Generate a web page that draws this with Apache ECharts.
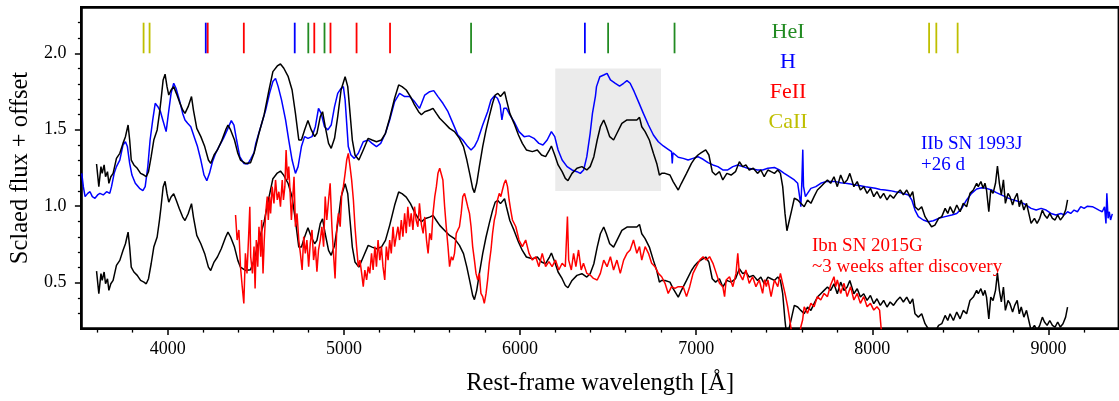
<!DOCTYPE html>
<html>
<head>
<meta charset="utf-8">
<script src="https://cdn.jsdelivr.net/npm/echarts@6/dist/echarts.min.js"></script>
<style>
html,body{margin:0;padding:0;background:#fff;}
#chart{width:1119px;height:401px;}
</style>
</head>
<body>
<div id="chart"></div>
<script>
// ---------------- DATA ----------------
// Comparison spectrum (black), as plotted in the upper panel; lower copy is shifted by blackOffset
const blackWave = [3596,3601,3609,3621,3628,3639,3647,3658,3666,3677,3690,3709,3728,3746,3760,3775,3784,3793,3808,3827,3846,3865,3878,3891,3906,3921,3940,3953,3962,3974,3985,3996,4006,4019,4034,4049,4066,4085,4098,4116,4135,4146,4165,4188,4210,4231,4244,4263,4282,4304,4329,4342,4357,4379,4398,4413,4441,4470,4490,4518,4547,4575,4597,4622,4640,4659,4684,4706,4725,4744,4759,4777,4796,4815,4834,4847,4866,4879,4894,4913,4928,4947,4965,4984,5007,5022,5035,5048,5063,5085,5110,5138,5160,5185,5213,5236,5260,5288,5311,5330,5354,5378,5401,5424,5440,5459,5487,5506,5525,5544,5572,5600,5628,5656,5679,5698,5716,5731,5741,5754,5769,5788,5807,5825,5844,5859,5874,5889,5900,5912,5923,5942,5966,5991,6013,6036,6070,6098,6122,6145,6167,6178,6197,6216,6239,6257,6272,6295,6323,6351,6379,6398,6419,6438,6456,6475,6490,6509,6531,6550,6578,6607,6635,6663,6678,6691,6710,6734,6757,6776,6791,6804,6823,6851,6869,6898,6916,6945,6973,6992,7010,7029,7054,7072,7091,7110,7132,7151,7174,7198,7223,7245,7264,7282,7301,7324,7348,7367,7386,7407,7425,7444,7463,7478,7491,7504,7515,7529,7542,7557,7576,7594,7613,7632,7651,7669,7688,7707,7726,7745,7763,7782,7801,7820,7839,7857,7872,7895,7914,7932,7951,7970,7989,8008,8026,8045,8064,8083,8101,8120,8139,8158,8176,8195,8214,8229,8242,8261,8280,8299,8317,8336,8355,8376,8394,8413,8428,8441,8460,8479,8498,8516,8535,8554,8573,8592,8601,8616,8629,8639,8648,8661,8672,8685,8699,8710,8721,8732,8744,8755,8770,8781,8796,8808,8822,8834,8845,8860,8875,8890,8901,8920,8935,8950,8965,8977,8992,9007,9022,9037,9052,9067,9082,9097,9108];
const blackFlux = [1.276,1.28,1.128,1.259,1.215,1.27,1.193,1.226,1.15,1.193,1.215,1.313,1.346,1.411,1.455,1.531,1.433,1.302,1.27,1.248,1.215,1.204,1.193,1.226,1.324,1.433,1.499,1.607,1.695,1.826,1.863,1.782,1.727,1.76,1.782,1.738,1.684,1.629,1.607,1.651,1.717,1.629,1.509,1.455,1.39,1.302,1.28,1.335,1.368,1.422,1.499,1.531,1.499,1.433,1.346,1.302,1.28,1.285,1.346,1.477,1.597,1.76,1.88,1.917,1.93,1.902,1.847,1.76,1.607,1.433,1.433,1.499,1.56,1.499,1.455,1.477,1.586,1.618,1.52,1.411,1.379,1.444,1.586,1.76,1.847,1.782,1.607,1.433,1.335,1.302,1.368,1.444,1.433,1.422,1.433,1.477,1.575,1.706,1.793,1.782,1.76,1.717,1.662,1.618,1.598,1.618,1.629,1.64,1.607,1.575,1.542,1.509,1.488,1.444,1.39,1.302,1.204,1.117,1.089,1.15,1.259,1.39,1.499,1.586,1.673,1.727,1.738,1.717,1.727,1.749,1.695,1.607,1.542,1.466,1.411,1.368,1.357,1.368,1.335,1.324,1.368,1.394,1.335,1.27,1.226,1.182,1.167,1.215,1.248,1.259,1.237,1.259,1.324,1.433,1.52,1.564,1.52,1.455,1.433,1.477,1.542,1.564,1.564,1.564,1.581,1.52,1.488,1.433,1.346,1.28,1.204,1.215,1.215,1.204,1.161,1.106,1.15,1.215,1.28,1.313,1.335,1.35,1.368,1.335,1.226,1.204,1.226,1.172,1.215,1.204,1.226,1.291,1.259,1.27,1.237,1.248,1.215,1.237,1.193,1.237,1.226,1.215,1.237,1.215,1.128,0.953,0.84,0.91,0.975,1.052,1.041,1.019,0.997,1.041,1.019,1.063,1.106,1.128,1.15,1.172,1.15,1.193,1.128,1.204,1.15,1.172,1.215,1.128,1.161,1.106,1.128,1.084,1.117,1.063,1.095,1.052,1.084,1.041,1.074,1.052,1.084,1.106,1.074,1.106,1.063,1.095,0.997,0.975,0.997,0.932,0.899,0.866,0.877,0.921,0.932,0.986,0.953,0.997,0.953,1.008,0.964,1.019,0.997,1.084,1.106,1.15,1.128,1.161,1.117,1.15,1.106,0.964,1.106,1.084,1.15,1.263,1.15,1.074,1.172,1.019,1.084,1.063,1.008,1.052,1.084,0.997,1.041,0.975,1.019,0.943,0.888,0.921,0.888,0.921,0.975,0.943,0.921,0.953,0.921,0.91,0.943,0.91,0.932,0.975,1.041];
const blackOffset = -0.7;

// IIb SN 1993J, +26 d (blue)
const blueWave = [3512,3521,3531,3546,3559,3572,3587,3602,3615,3634,3653,3671,3681,3696,3709,3728,3746,3760,3771,3784,3797,3816,3840,3859,3872,3887,3900,3915,3929,3944,3959,3972,3991,4004,4019,4034,4047,4066,4085,4098,4113,4131,4150,4169,4188,4206,4222,4237,4254,4272,4291,4316,4338,4361,4376,4391,4409,4432,4454,4473,4490,4500,4528,4556,4578,4597,4612,4627,4646,4669,4687,4706,4725,4740,4759,4777,4796,4819,4838,4856,4871,4890,4909,4928,4947,4965,4984,4997,5007,5016,5025,5040,5059,5082,5110,5138,5160,5185,5209,5236,5260,5288,5316,5345,5373,5401,5429,5440,5459,5487,5510,5534,5562,5591,5619,5647,5675,5703,5722,5741,5760,5788,5816,5835,5854,5872,5887,5897,5908,5923,5942,5966,5994,6023,6051,6079,6107,6130,6154,6178,6197,6216,6239,6267,6295,6323,6342,6361,6379,6398,6411,6428,6434,6453,6475,6494,6513,6541,6565,6588,6607,6625,6648,6672,6700,6729,6757,6785,6813,6841,6860,6864,6868,6898,6926,6954,6982,7010,7039,7067,7095,7123,7151,7179,7208,7236,7264,7292,7320,7348,7377,7407,7444,7472,7500,7529,7557,7576,7587,7594,7600,7605,7609,7620,7632,7651,7679,7707,7735,7763,7792,7820,7848,7876,7904,7932,7961,7989,8017,8045,8073,8101,8130,8158,8186,8205,8224,8242,8261,8289,8317,8346,8376,8413,8451,8479,8507,8535,8563,8592,8620,8648,8676,8704,8732,8761,8789,8817,8845,8873,8901,8930,8958,8986,9014,9042,9070,9089,9108,9126,9145,9164,9183,9202,9221,9249,9268,9286,9305,9318,9326,9331,9338,9345,9352,9362];
const blueFlux = [1.215,1.128,1.063,1.084,1.095,1.063,1.052,1.074,1.084,1.074,1.095,1.084,1.128,1.215,1.259,1.302,1.4,1.422,1.39,1.28,1.204,1.15,1.117,1.102,1.128,1.259,1.433,1.564,1.673,1.651,1.618,1.564,1.488,1.607,1.738,1.804,1.771,1.695,1.607,1.564,1.542,1.52,1.455,1.39,1.302,1.204,1.167,1.215,1.291,1.346,1.39,1.444,1.499,1.56,1.531,1.433,1.324,1.28,1.276,1.313,1.35,1.411,1.52,1.629,1.738,1.815,1.836,1.782,1.695,1.564,1.433,1.302,1.215,1.259,1.39,1.455,1.444,1.455,1.52,1.64,1.607,1.52,1.499,1.531,1.651,1.738,1.771,1.782,1.695,1.542,1.39,1.335,1.313,1.346,1.422,1.433,1.411,1.39,1.411,1.477,1.564,1.684,1.738,1.717,1.717,1.684,1.64,1.67,1.727,1.749,1.756,1.717,1.673,1.618,1.542,1.466,1.433,1.39,1.368,1.39,1.433,1.531,1.618,1.695,1.721,1.706,1.662,1.564,1.64,1.64,1.597,1.553,1.488,1.455,1.46,1.444,1.411,1.4,1.433,1.488,1.455,1.368,1.302,1.259,1.237,1.226,1.215,1.237,1.324,1.477,1.607,1.72,1.782,1.847,1.858,1.869,1.826,1.804,1.786,1.804,1.821,1.804,1.749,1.684,1.607,1.531,1.466,1.422,1.394,1.372,1.357,1.28,1.35,1.32,1.313,1.302,1.313,1.324,1.307,1.285,1.27,1.259,1.237,1.237,1.259,1.27,1.259,1.248,1.243,1.237,1.237,1.248,1.254,1.237,1.215,1.193,1.172,1.15,1.063,0.997,1.17,1.37,1.13,1.063,1.084,1.117,1.128,1.15,1.161,1.161,1.161,1.154,1.15,1.145,1.139,1.134,1.128,1.123,1.117,1.11,1.106,1.102,1.095,1.089,1.08,1.074,1.041,0.975,0.932,0.91,0.899,0.905,0.921,0.932,0.943,0.953,0.986,1.041,1.084,1.113,1.121,1.117,1.106,1.089,1.074,1.058,1.045,1.036,1.025,1.008,0.986,0.975,0.986,0.975,0.953,0.943,0.953,0.943,0.964,0.953,0.975,0.964,0.997,0.986,1.0,0.997,0.986,0.975,0.964,0.997,0.888,1.084,0.921,0.964,0.91,0.95];

// Ibn SN 2015G, ~3 weeks after discovery (red)
const redWave = [4385,4394,4404,4413,4423,4432,4441,4450,4460,4466,4471,4481,4490,4496,4503,4511,4518,4528,4533,4541,4548,4556,4565,4571,4578,4584,4593,4603,4612,4622,4631,4640,4650,4657,4665,4672,4680,4687,4695,4702,4710,4717,4725,4734,4744,4753,4763,4772,4781,4790,4800,4809,4819,4828,4838,4847,4856,4866,4875,4885,4894,4903,4913,4922,4932,4941,4950,4960,4969,4979,4988,4997,5007,5016,5025,5035,5044,5054,5063,5072,5082,5091,5101,5110,5119,5129,5138,5147,5157,5166,5176,5185,5194,5204,5213,5222,5232,5241,5251,5260,5269,5279,5288,5297,5307,5316,5326,5335,5345,5354,5363,5373,5382,5392,5401,5410,5420,5429,5440,5450,5459,5469,5478,5487,5497,5506,5516,5525,5534,5544,5553,5562,5572,5581,5591,5600,5610,5619,5628,5638,5647,5656,5666,5675,5685,5694,5703,5713,5722,5731,5741,5750,5760,5769,5778,5788,5797,5807,5816,5825,5835,5844,5854,5863,5872,5882,5891,5900,5910,5919,5929,5938,5947,5957,5976,5994,6013,6032,6051,6070,6089,6107,6126,6145,6164,6182,6201,6220,6239,6257,6269,6276,6291,6304,6317,6332,6347,6360,6379,6398,6417,6438,6456,6475,6494,6513,6531,6550,6569,6588,6607,6625,6644,6653,6663,6678,6691,6710,6729,6747,6766,6785,6804,6823,6841,6860,6879,6898,6926,6945,6963,6982,7001,7020,7039,7057,7076,7095,7114,7132,7151,7161,7170,7189,7208,7226,7236,7245,7264,7282,7301,7320,7339,7358,7377,7388,7398,7407,7425,7444,7463,7478,7491,7504,7519,7534,7542,7560,7585,7594,7604,7613,7632,7651,7669,7688,7707,7726,7745,7763,7782,7792,7801,7820,7839,7857,7876,7895,7914,7932,7951,7970,7989,8008,8026,8041,8049,8055];
const redFlux = [0.943,0.779,0.845,0.605,0.474,0.365,0.692,0.561,0.823,0.997,0.67,0.561,0.736,0.463,0.779,0.605,0.866,0.67,0.91,0.561,0.779,0.953,1.063,0.91,1.063,0.953,1.128,1.019,1.172,1.041,1.095,0.997,1.172,1.041,1.128,1.368,1.172,1.259,1.084,0.91,1.063,1.193,0.866,0.953,0.779,0.692,0.583,0.801,0.692,0.779,0.605,0.757,0.845,0.648,0.736,0.572,0.714,0.779,0.866,0.736,1.063,0.91,1.041,1.15,0.866,0.692,0.528,0.866,0.953,0.866,1.084,1.128,1.215,1.302,1.346,1.259,1.172,1.041,0.866,0.736,0.605,0.648,0.561,0.474,0.583,0.518,0.605,0.561,0.692,0.583,0.736,0.605,0.779,0.648,0.736,0.605,0.518,0.736,0.648,0.779,0.692,0.866,0.736,0.801,0.866,0.779,0.91,0.801,0.953,0.823,0.997,0.866,0.953,0.845,0.997,0.91,0.866,1.019,0.88,0.823,0.93,0.779,0.692,0.823,0.779,0.953,1.063,1.128,1.215,1.248,1.248,1.172,0.997,0.866,0.736,0.605,0.67,0.648,0.692,0.823,0.845,0.866,0.953,1.063,1.084,1.041,0.997,0.953,0.866,0.736,0.648,0.561,0.518,0.561,0.43,0.409,0.365,0.43,0.518,0.627,0.714,0.823,0.91,0.953,1.041,1.084,1.063,1.106,1.15,1.172,1.128,1.041,0.975,0.91,0.866,0.779,0.736,0.779,0.692,0.648,0.67,0.605,0.692,0.605,0.638,0.605,0.648,0.583,0.627,0.605,0.932,0.648,0.583,0.692,0.605,0.714,0.583,0.627,0.561,0.55,0.528,0.518,0.561,0.648,0.605,0.67,0.583,0.648,0.561,0.648,0.692,0.714,0.779,0.79,0.692,0.736,0.648,0.736,0.692,0.627,0.605,0.561,0.539,0.496,0.43,0.474,0.463,0.474,0.474,0.409,0.474,0.561,0.605,0.648,0.67,0.648,0.67,0.627,0.561,0.496,0.474,0.409,0.518,0.539,0.474,0.561,0.692,0.561,0.518,0.583,0.496,0.539,0.474,0.518,0.43,0.52,0.474,0.518,0.409,0.518,0.474,0.561,0.496,0.43,0.343,0.234,0.17,0.1,0.12,0.212,0.256,0.343,0.3,0.365,0.343,0.409,0.387,0.43,0.409,0.485,0.539,0.474,0.518,0.43,0.496,0.409,0.474,0.387,0.43,0.365,0.409,0.343,0.365,0.321,0.343,0.321,0.212,0.15];

// Line identifications (velocity-shifted positions, Å) and their ion
const lineWave = [3863,3897,4216,4227,4432,4721,4798,4832,4890,4924,5072,5262,5722,6368,6500,6877,8322,8363,8484];
const lineIon  = ['CaII','CaII','H','FeII','FeII','H','HeI','FeII','HeI','FeII','FeII','FeII','HeI','H','HeI','HeI','CaII','CaII','CaII'];
const ionNames = ['HeI','H','FeII','CaII'];

// Shaded H-alpha region [x0, x1, y0, y1]
const shadeRegion = [[6200, 6800, 1.1, 1.9]];

// Axis ticks
const xMajorTicks = [4000,5000,6000,7000,8000,9000];
const xMinorTicks = [3600,3800,4200,4400,4600,4800,5200,5400,5600,5800,6200,6400,6600,6800,7200,7400,7600,7800,8200,8400,8600,8800,9200];
const yMajorTicks = [0.5,1.0,1.5,2.0];
const yMinorTicks = [0.3,0.4,0.6,0.7,0.8,0.9,1.1,1.2,1.3,1.4,1.6,1.7,1.8,1.9,2.1,2.2];

// ---------------- CHART ----------------
const FONT = 'Liberation Serif';
const ionColor = {HeI:'#228b22', H:'#0000ff', FeII:'#ff0000', CaII:'#bfbf00'};

const zip = (a,b,off) => a.map((x,i)=>[x, b[i] + (off||0)]);

const chart = echarts.init(document.getElementById('chart'), null, {renderer:'canvas'});

const lineSeries = (data, color) => ({
  type:'line', data, showSymbol:false, symbol:'none', clip:true,
  lineStyle:{color, width:1.5}, itemStyle:{color}, z:3, animation:false, silent:true
});

const option = {
  animation:false,
  backgroundColor:'#fff',
  grid:{left:81, top:7.4, width:1045.5, height:321.2, show:true, borderColor:'#000', borderWidth:2.8, backgroundColor:'transparent'},
  xAxis:[{
    type:'value', min:3510, max:9400, position:'bottom',
    axisLine:{show:false},
    axisTick:{show:true, customValues:xMajorTicks, length:6.5, lineStyle:{color:'#000', width:1.5}},
    axisLabel:{customValues:xMajorTicks, fontSize:18, color:'#000', fontFamily:FONT, margin:12,
      formatter:v=>String(Math.round(v))},
    splitLine:{show:false},
    name:'Rest-frame wavelength [Å]', nameLocation:'middle', nameGap:42,
    nameTextStyle:{fontSize:24.5, color:'#000', fontFamily:FONT}
  },{
    type:'value', min:3510, max:9400, position:'bottom',
    axisLine:{show:false},
    axisTick:{show:true, customValues:xMinorTicks, length:4, lineStyle:{color:'#000', width:1.3}},
    axisLabel:{show:false}, splitLine:{show:false}
  }],
  yAxis:[{
    type:'value', min:0.2, max:2.3, position:'left',
    axisLine:{show:false},
    axisTick:{show:true, customValues:yMajorTicks, length:6.5, lineStyle:{color:'#000', width:1.5}},
    axisLabel:{customValues:yMajorTicks, fontSize:18, color:'#000', fontFamily:FONT, margin:15,
      formatter:v=>Number(v).toFixed(1)},
    splitLine:{show:false},
    name:'Sclaed flux + offset', nameLocation:'middle', nameGap:43, nameRotate:90,
    nameTextStyle:{fontSize:24.5, color:'#000', fontFamily:FONT}
  },{
    type:'value', min:0.2, max:2.3, position:'left',
    axisLine:{show:false},
    axisTick:{show:true, customValues:yMinorTicks, length:3.5, lineStyle:{color:'#000', width:1.3}},
    axisLabel:{show:false}, splitLine:{show:false}
  }],
  series:[
    {
      type:'custom', data:shadeRegion, z:1, silent:true,
      encode:{x:[0,1], y:[2,3]},
      renderItem:(params, api)=>{
        const p0 = api.coord([api.value(0), api.value(3)]);
        const p1 = api.coord([api.value(1), api.value(2)]);
        return {type:'rect', shape:{x:p0[0], y:p0[1], width:p1[0]-p0[0], height:p1[1]-p0[1]},
          style:{fill:'#ebebeb'}};
      }
    },
    lineSeries(zip(blueWave, blueFlux), '#0000ff'),
    lineSeries(zip(blackWave, blackFlux), '#000000'),
    lineSeries(zip(blackWave, blackFlux, blackOffset), '#000000'),
    lineSeries(zip(redWave, redFlux), '#ff0000'),
    {
      type:'custom', z:4, silent:true,
      data: lineWave.map((w,i)=>[w, ionNames.indexOf(lineIon[i])]),
      encode:{x:0},
      renderItem:(params, api)=>{
        const w = api.value(0);
        const ion = ionNames[api.value(1)];
        const a = api.coord([w, 2.0]);
        const b = api.coord([w, 2.2]);
        return {type:'line', shape:{x1:a[0], y1:a[1], x2:b[0], y2:b[1]},
          style:{stroke:ionColor[ion], lineWidth:1.8}};
      }
    }
  ],
  graphic:[
    {type:'text', x:788, y:32, style:{text:'HeI', fill:ionColor.HeI, font:'22px "Liberation Serif"', textAlign:'center', textVerticalAlign:'middle'}},
    {type:'text', x:788, y:62, style:{text:'H', fill:ionColor.H, font:'22px "Liberation Serif"', textAlign:'center', textVerticalAlign:'middle'}},
    {type:'text', x:788, y:92, style:{text:'FeII', fill:ionColor.FeII, font:'22px "Liberation Serif"', textAlign:'center', textVerticalAlign:'middle'}},
    {type:'text', x:788, y:122, style:{text:'CaII', fill:ionColor.CaII, font:'22px "Liberation Serif"', textAlign:'center', textVerticalAlign:'middle'}},
    {type:'text', x:921, y:144, style:{text:'IIb SN 1993J', fill:'#0000ff', font:'19px "Liberation Serif"', textAlign:'left', textVerticalAlign:'middle'}},
    {type:'text', x:921, y:165, style:{text:'+26 d', fill:'#0000ff', font:'19px "Liberation Serif"', textAlign:'left', textVerticalAlign:'middle'}},
    {type:'text', x:812, y:246, style:{text:'Ibn SN 2015G', fill:'#ff0000', font:'19px "Liberation Serif"', textAlign:'left', textVerticalAlign:'middle'}},
    {type:'text', x:812, y:267, style:{text:'~3 weeks after discovery', fill:'#ff0000', font:'19px "Liberation Serif"', textAlign:'left', textVerticalAlign:'middle'}}
  ]
};
chart.setOption(option);
</script>
</body>
</html>
